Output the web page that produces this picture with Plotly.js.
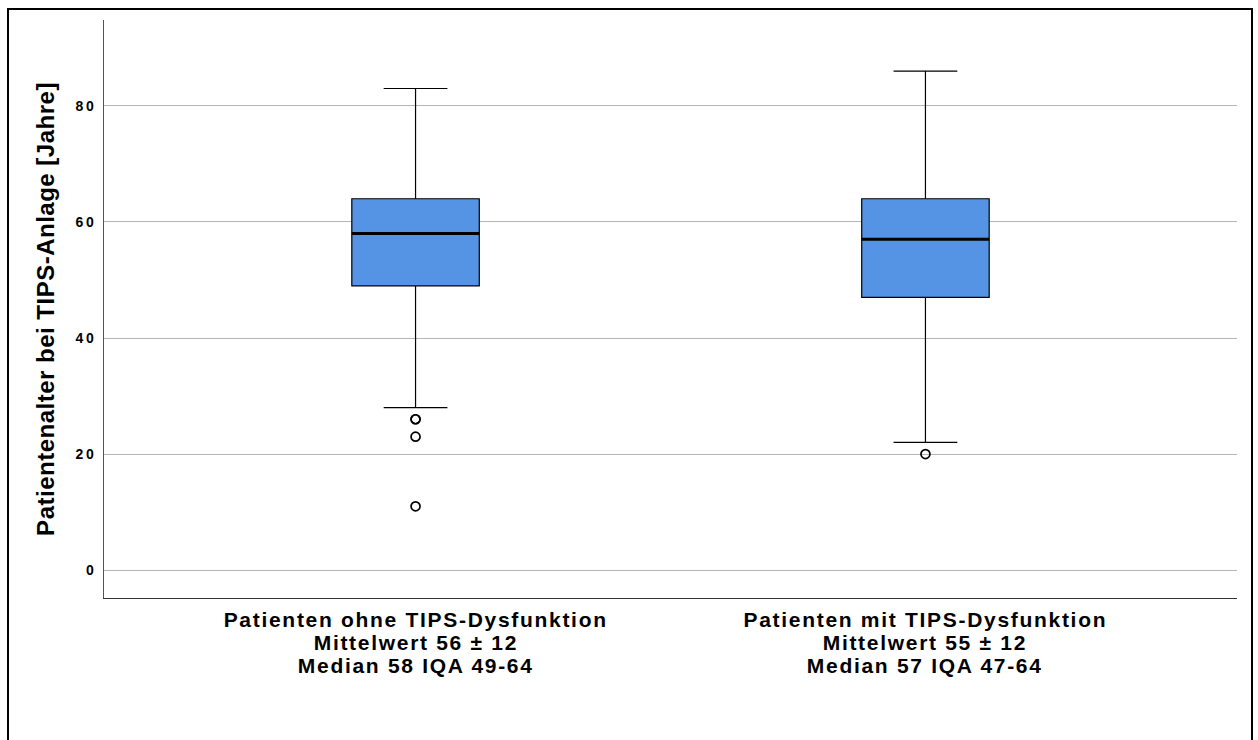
<!DOCTYPE html>
<html>
<head>
<meta charset="utf-8">
<script src="https://cdn.plot.ly/plotly-3.0.1.min.js"></script>
<style>
  html, body { margin: 0; padding: 0; background: #fff; }
  #wrap { position: relative; width: 1258px; height: 740px; overflow: hidden; }
  #chart { position: absolute; left: 0; top: 0; width: 1258px; height: 740px; }
  #frame { position: absolute; left: 7px; top: 8px; width: 1246px; height: 760px;
           border: 2px solid #000; pointer-events: none; box-sizing: border-box; }
  #chart .ytick text { letter-spacing: 2.5px; }
  #chart .g-ytitle text { letter-spacing: 0.5px; }
  #chart .annotation-text { letter-spacing: 1.7px; }
</style>
</head>
<body>
<div id="wrap">
  <div id="chart"></div>
  <div id="frame"></div>
</div>
<script>
// ---- data ----
const categories = ["Patienten ohne TIPS-Dysfunktion", "Patienten mit TIPS-Dysfunktion"];
const meanLabels = ["Mittelwert 56 ± 12", "Mittelwert 55 ± 12"];
const medianLabels = ["Median 58 IQA 49-64", "Median 57 IQA 47-64"];
const q1Values = [49, 47];
const medianValues = [58, 57];
const q3Values = [64, 64];
const lowerWhisker = [28, 22];
const upperWhisker = [83, 86];
const outliersGroup1 = [26, 26, 23, 11];
const outliersGroup2 = [20];
const yTicks = [0, 20, 40, 60, 80];

// ---- chart ----
const FONT = '"Liberation Sans", Arial, sans-serif';
const xPos = categories.map((c, i) => i);
const boxWidth = 0.25;

const boxTrace = {
  type: 'box',
  x: xPos,
  q1: q1Values,
  median: medianValues,
  q3: q3Values,
  lowerfence: lowerWhisker,
  upperfence: upperWhisker,
  width: boxWidth,
  whiskerwidth: 0.5,
  fillcolor: '#5594E4',
  line: { color: '#000', width: 1.2 },
  boxpoints: false,
  hoverinfo: 'skip',
  showlegend: false
};

// thicker median lines
const medianX = [], medianY = [];
medianValues.forEach((m, i) => {
  medianX.push(i - boxWidth / 2, i + boxWidth / 2, null);
  medianY.push(m, m, null);
});
const medianTrace = {
  type: 'scatter', mode: 'lines',
  x: medianX, y: medianY,
  line: { color: '#000', width: 3 },
  hoverinfo: 'skip', showlegend: false
};

const outX = outliersGroup1.map(() => 0).concat(outliersGroup2.map(() => 1));
const outY = outliersGroup1.concat(outliersGroup2);
const outlierTrace = {
  type: 'scatter', mode: 'markers',
  x: outX, y: outY,
  marker: { symbol: 'circle-open', size: 9, color: '#000', line: { width: 1.7, color: '#000' } },
  hoverinfo: 'skip', showlegend: false
};

// category labels (three lines each) as annotations under the axis
const annotations = [];
const lineShifts = [-21.8, -44.6, -67];
categories.forEach((c, i) => {
  [c, meanLabels[i], medianLabels[i]].forEach((txt, j) => {
    annotations.push({
      xref: 'x', x: i, yref: 'paper', y: 0,
      xanchor: 'center', yanchor: 'middle', yshift: lineShifts[j],
      text: txt, showarrow: false,
      font: { size: 21, family: FONT, weight: 'bold', color: '#000' }
    });
  });
});

const layout = {
  width: 1258, height: 740,
  margin: { l: 104, r: 21, t: 20, b: 142 },
  paper_bgcolor: 'rgba(0,0,0,0)',
  plot_bgcolor: '#fff',
  font: { family: FONT, color: '#000' },
  annotations: annotations,
  xaxis: {
    range: [-0.611, 1.611],
    tickmode: 'array',
    tickvals: xPos,
    showticklabels: false,
    showgrid: false,
    zeroline: false,
    showline: true,
    linecolor: '#333',
    linewidth: 1,
    ticks: ''
  },
  yaxis: {
    range: [-4.8, 94.8],
    tickmode: 'array',
    tickvals: yTicks,
    ticktext: yTicks.map(String),
    showgrid: true,
    gridcolor: '#b4b4b4',
    gridwidth: 1,
    zeroline: false,
    showline: true,
    linecolor: '#555',
    linewidth: 1,
    ticks: '',
    ticklabelstandoff: 4,
    tickfont: { size: 14, family: FONT, weight: 'bold', color: '#000' },
    title: {
      text: 'Patientenalter bei TIPS-Anlage [Jahre]',
      font: { size: 24, family: FONT, weight: 'bold', color: '#000' },
      standoff: 19
    }
  }
};

Plotly.newPlot('chart', [boxTrace, medianTrace, outlierTrace], layout, { displayModeBar: false, staticPlot: true });
</script>
</body>
</html>
